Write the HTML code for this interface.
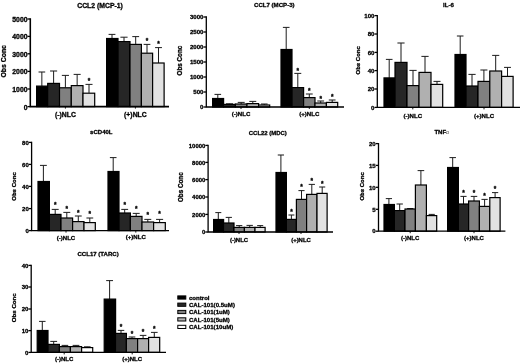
<!DOCTYPE html>
<html lang="en">
<head>
<meta charset="utf-8">
<title>Cytokine concentrations</title>
<style>
html,body{margin:0;padding:0;background:#fff;}
body{width:520px;height:363px;overflow:hidden;}
svg{display:block;}
svg text{font-family:"Liberation Sans", Arial, sans-serif;font-weight:bold;fill:#000;stroke:#000;stroke-width:0.3px;stroke-linejoin:round;}
</style>
</head>
<body>
<svg width="520" height="363" viewBox="0 0 520 363">
<defs><filter id="soft" x="0" y="0" width="520" height="363" filterUnits="userSpaceOnUse"><feGaussianBlur stdDeviation="0.27"/></filter></defs>
<rect width="520" height="363" fill="#fff"/>
<g filter="url(#soft)">
<g>
<text x="100" y="7.67" font-size="6.85" text-anchor="middle">CCL2 (MCP-1)</text>
<text transform="translate(5.87 61.3) rotate(-90)" font-size="6.85" text-anchor="middle">Obs Conc</text>
<path d="M41.85 86.1V72M38.52 72H45.18" stroke="#1c1c1c" stroke-width="1.0" fill="none"/>
<rect x="36.6" y="86.1" width="11.1" height="20.5" fill="#000000" stroke="#000" stroke-width="1.2"/>
<path d="M53.6 83.4V71M50.06 71H57.14" stroke="#1c1c1c" stroke-width="1.0" fill="none"/>
<rect x="47.7" y="83.4" width="11.8" height="23.2" fill="#282828" stroke="#000" stroke-width="1.2"/>
<path d="M65.4 87.8V75.4M61.86 75.4H68.94" stroke="#1c1c1c" stroke-width="1.0" fill="none"/>
<rect x="59.5" y="87.8" width="11.8" height="18.8" fill="#808080" stroke="#000" stroke-width="1.2"/>
<path d="M77.15 85.6V74.4M73.64 74.4H80.66" stroke="#1c1c1c" stroke-width="1.0" fill="none"/>
<rect x="71.3" y="85.6" width="11.7" height="21" fill="#b0b0b0" stroke="#000" stroke-width="1.2"/>
<path d="M89 93.2V84.4M85.49 84.4H92.51" stroke="#1c1c1c" stroke-width="1.0" fill="none"/>
<rect x="83" y="93.2" width="11.7" height="13.4" fill="#e2e2e2" stroke="#000" stroke-width="1.2"/>
<text x="89" y="82.77" font-size="6.5" text-anchor="middle" stroke-width="0.25">*</text>
<text x="65.4" y="117.07" font-size="6.85" text-anchor="middle">(-)NLC</text>
<path d="M65.4 106.6v2" stroke="#000" stroke-width="0.9"/>
<path d="M112 38.5V34.4M108.58 34.4H115.42" stroke="#1c1c1c" stroke-width="1.0" fill="none"/>
<rect x="106.6" y="38.5" width="11.4" height="68.1" fill="#000000" stroke="#000" stroke-width="1.2"/>
<path d="M124 41.6V37.2M120.4 37.2H127.6" stroke="#1c1c1c" stroke-width="1.0" fill="none"/>
<rect x="118" y="41.6" width="12" height="65" fill="#282828" stroke="#000" stroke-width="1.2"/>
<path d="M135.7 44.4V36.6M132.28 36.6H139.12" stroke="#1c1c1c" stroke-width="1.0" fill="none"/>
<rect x="130" y="44.4" width="11.4" height="62.2" fill="#808080" stroke="#000" stroke-width="1.2"/>
<path d="M147 53.2V44.4M143.64 44.4H150.36" stroke="#1c1c1c" stroke-width="1.0" fill="none"/>
<rect x="141.4" y="53.2" width="11.2" height="53.4" fill="#b0b0b0" stroke="#000" stroke-width="1.2"/>
<text x="147" y="42.77" font-size="6.5" text-anchor="middle" stroke-width="0.25">*</text>
<path d="M158.5 63V47.6M155.05 47.6H161.95" stroke="#1c1c1c" stroke-width="1.0" fill="none"/>
<rect x="152.6" y="63" width="11.5" height="43.6" fill="#e2e2e2" stroke="#000" stroke-width="1.2"/>
<text x="158.5" y="46.17" font-size="6.5" text-anchor="middle" stroke-width="0.25">*</text>
<text x="135.4" y="117.07" font-size="6.85" text-anchor="middle">(+)NLC</text>
<path d="M135.4 106.6v2" stroke="#000" stroke-width="0.9"/>
<path d="M30.3 18.23V106.6H169" stroke="#000" stroke-width="1.55" fill="none"/>
<path d="M27.5 19H30.3" stroke="#000" stroke-width="1.3"/>
<text x="27.5" y="22.07" font-size="6.85" text-anchor="end">5000</text>
<path d="M27.5 36.4H30.3" stroke="#000" stroke-width="1.3"/>
<text x="27.5" y="39.47" font-size="6.85" text-anchor="end">4000</text>
<path d="M27.5 53.8H30.3" stroke="#000" stroke-width="1.3"/>
<text x="27.5" y="56.87" font-size="6.85" text-anchor="end">3000</text>
<path d="M27.5 71.4H30.3" stroke="#000" stroke-width="1.3"/>
<text x="27.5" y="74.47" font-size="6.85" text-anchor="end">2000</text>
<path d="M27.5 89H30.3" stroke="#000" stroke-width="1.3"/>
<text x="27.5" y="92.07" font-size="6.85" text-anchor="end">1000</text>
<path d="M27.5 106.6H30.3" stroke="#000" stroke-width="1.3"/>
<text x="27.5" y="109.67" font-size="6.85" text-anchor="end">0</text>
</g>
<g>
<text x="274.3" y="7.3" font-size="6.1" text-anchor="middle">CCL7 (MCP-3)</text>
<text transform="translate(181.66 60.6) rotate(-90)" font-size="6.27" text-anchor="middle">Obs Conc</text>
<path d="M217.8 98.5V94.4M214.5 94.4H221.1" stroke="#1c1c1c" stroke-width="1.0" fill="none"/>
<rect x="212.6" y="98.5" width="11" height="8.5" fill="#000000" stroke="#000" stroke-width="1.2"/>
<path d="M229.5 104.4V103.8M225.96 103.8H233.04" stroke="#1c1c1c" stroke-width="1.0" fill="none"/>
<rect x="223.6" y="104.4" width="11.8" height="2.6" fill="#282828" stroke="#000" stroke-width="1.2"/>
<path d="M241.2 104V102.4M237.72 102.4H244.68" stroke="#1c1c1c" stroke-width="1.0" fill="none"/>
<rect x="235.4" y="104" width="11.6" height="3" fill="#808080" stroke="#000" stroke-width="1.2"/>
<path d="M252.8 103.6V101.4M249.32 101.4H256.28" stroke="#1c1c1c" stroke-width="1.0" fill="none"/>
<rect x="247" y="103.6" width="11.6" height="3.4" fill="#b0b0b0" stroke="#000" stroke-width="1.2"/>
<path d="M264.3 105V104M260.97 104H267.63" stroke="#1c1c1c" stroke-width="1.0" fill="none"/>
<rect x="258.6" y="105" width="11.1" height="2" fill="#e2e2e2" stroke="#000" stroke-width="1.2"/>
<text x="241" y="116" font-size="6.1" text-anchor="middle">(-)NLC</text>
<path d="M241 107v2" stroke="#000" stroke-width="0.9"/>
<path d="M286.2 49.5V27.4M282.9 27.4H289.5" stroke="#1c1c1c" stroke-width="1.0" fill="none"/>
<rect x="281" y="49.5" width="11" height="57.5" fill="#000000" stroke="#000" stroke-width="1.2"/>
<path d="M297.8 87.6V73.4M294.32 73.4H301.28" stroke="#1c1c1c" stroke-width="1.0" fill="none"/>
<rect x="292" y="87.6" width="11.6" height="19.4" fill="#282828" stroke="#000" stroke-width="1.2"/>
<text x="297.8" y="72.77" font-size="6.5" text-anchor="middle" stroke-width="0.25">*</text>
<path d="M309.3 97.6V94M305.88 94H312.72" stroke="#1c1c1c" stroke-width="1.0" fill="none"/>
<rect x="303.6" y="97.6" width="11.4" height="9.4" fill="#808080" stroke="#000" stroke-width="1.2"/>
<text x="309.3" y="92.77" font-size="6.5" text-anchor="middle" stroke-width="0.25">*</text>
<path d="M320.7 103V101M317.28 101H324.12" stroke="#1c1c1c" stroke-width="1.0" fill="none"/>
<rect x="315" y="103" width="11.4" height="4" fill="#b0b0b0" stroke="#000" stroke-width="1.2"/>
<text x="320.7" y="100.77" font-size="6.5" text-anchor="middle" stroke-width="0.25">*</text>
<path d="M332.2 102.4V100M328.81 100H335.59" stroke="#1c1c1c" stroke-width="1.0" fill="none"/>
<rect x="326.4" y="102.4" width="11.3" height="4.6" fill="#e2e2e2" stroke="#000" stroke-width="1.2"/>
<text x="332.2" y="98.77" font-size="6.5" text-anchor="middle" stroke-width="0.25">*</text>
<text x="309.3" y="116" font-size="6.1" text-anchor="middle">(+)NLC</text>
<path d="M309.3 107v2" stroke="#000" stroke-width="0.9"/>
<path d="M206.3 16.35V107H344" stroke="#000" stroke-width="1.3" fill="none"/>
<path d="M203.5 17H206.3" stroke="#000" stroke-width="1.3"/>
<text x="203.5" y="19.25" font-size="6.1" text-anchor="end">3000</text>
<path d="M203.5 32H206.3" stroke="#000" stroke-width="1.3"/>
<text x="203.5" y="34.25" font-size="6.1" text-anchor="end">2500</text>
<path d="M203.5 47H206.3" stroke="#000" stroke-width="1.3"/>
<text x="203.5" y="49.25" font-size="6.1" text-anchor="end">2000</text>
<path d="M203.5 62H206.3" stroke="#000" stroke-width="1.3"/>
<text x="203.5" y="64.25" font-size="6.1" text-anchor="end">1500</text>
<path d="M203.5 77H206.3" stroke="#000" stroke-width="1.3"/>
<text x="203.5" y="79.25" font-size="6.1" text-anchor="end">1000</text>
<path d="M203.5 92H206.3" stroke="#000" stroke-width="1.3"/>
<text x="203.5" y="94.25" font-size="6.1" text-anchor="end">500</text>
<path d="M203.5 107H206.3" stroke="#000" stroke-width="1.3"/>
<text x="203.5" y="109.25" font-size="6.1" text-anchor="end">0</text>
</g>
<g>
<text x="448.4" y="7" font-size="6.1" text-anchor="middle">IL-6</text>
<text transform="translate(359.56 60.3) rotate(-90)" font-size="6.0" text-anchor="middle">Obs Conc</text>
<path d="M389.2 77.9V59.4M385.9 59.4H392.5" stroke="#1c1c1c" stroke-width="1.0" fill="none"/>
<rect x="384" y="77.9" width="11" height="29.5" fill="#000000" stroke="#000" stroke-width="1.2"/>
<path d="M401 62.4V43M397.4 43H404.6" stroke="#1c1c1c" stroke-width="1.0" fill="none"/>
<rect x="395" y="62.4" width="12" height="45" fill="#282828" stroke="#000" stroke-width="1.2"/>
<path d="M413 85.6V70.4M409.4 70.4H416.6" stroke="#1c1c1c" stroke-width="1.0" fill="none"/>
<rect x="407" y="85.6" width="12" height="21.8" fill="#808080" stroke="#000" stroke-width="1.2"/>
<path d="M425 72.4V56.4M421.4 56.4H428.6" stroke="#1c1c1c" stroke-width="1.0" fill="none"/>
<rect x="419" y="72.4" width="12" height="35" fill="#b0b0b0" stroke="#000" stroke-width="1.2"/>
<path d="M437 84.4V81.4M433.49 81.4H440.51" stroke="#1c1c1c" stroke-width="1.0" fill="none"/>
<rect x="431" y="84.4" width="11.7" height="23" fill="#e2e2e2" stroke="#000" stroke-width="1.2"/>
<text x="412.8" y="117.7" font-size="6.1" text-anchor="middle">(-)NLC</text>
<path d="M412.8 107.4v2" stroke="#000" stroke-width="0.9"/>
<path d="M460.2 54.5V36M456.9 36H463.5" stroke="#1c1c1c" stroke-width="1.0" fill="none"/>
<rect x="455" y="54.5" width="11" height="52.9" fill="#000000" stroke="#000" stroke-width="1.2"/>
<path d="M472 86V74.4M468.4 74.4H475.6" stroke="#1c1c1c" stroke-width="1.0" fill="none"/>
<rect x="466" y="86" width="12" height="21.4" fill="#282828" stroke="#000" stroke-width="1.2"/>
<path d="M483.9 81.4V70M480.36 70H487.44" stroke="#1c1c1c" stroke-width="1.0" fill="none"/>
<rect x="478" y="81.4" width="11.8" height="26" fill="#808080" stroke="#000" stroke-width="1.2"/>
<path d="M495.7 71V55.4M492.16 55.4H499.24" stroke="#1c1c1c" stroke-width="1.0" fill="none"/>
<rect x="489.8" y="71" width="11.8" height="36.4" fill="#b0b0b0" stroke="#000" stroke-width="1.2"/>
<path d="M507.5 76.4V67.4M504.05 67.4H510.95" stroke="#1c1c1c" stroke-width="1.0" fill="none"/>
<rect x="501.6" y="76.4" width="11.5" height="31" fill="#e2e2e2" stroke="#000" stroke-width="1.2"/>
<text x="484" y="117.7" font-size="6.1" text-anchor="middle">(+)NLC</text>
<path d="M484 107.4v2" stroke="#000" stroke-width="0.9"/>
<path d="M377.3 14.95V107.4H520" stroke="#000" stroke-width="1.3" fill="none"/>
<path d="M374.5 15.6H377.3" stroke="#000" stroke-width="1.3"/>
<text x="374.5" y="17.85" font-size="6.1" text-anchor="end">100</text>
<path d="M374.5 34H377.3" stroke="#000" stroke-width="1.3"/>
<text x="374.5" y="36.25" font-size="6.1" text-anchor="end">80</text>
<path d="M374.5 52.4H377.3" stroke="#000" stroke-width="1.3"/>
<text x="374.5" y="54.65" font-size="6.1" text-anchor="end">60</text>
<path d="M374.5 70.6H377.3" stroke="#000" stroke-width="1.3"/>
<text x="374.5" y="72.85" font-size="6.1" text-anchor="end">40</text>
<path d="M374.5 89H377.3" stroke="#000" stroke-width="1.3"/>
<text x="374.5" y="91.25" font-size="6.1" text-anchor="end">20</text>
<path d="M374.5 107.4H377.3" stroke="#000" stroke-width="1.3"/>
<text x="374.5" y="109.65" font-size="6.1" text-anchor="end">0</text>
</g>
<g>
<text x="101.3" y="133.78" font-size="6.05" text-anchor="middle">sCD40L</text>
<text transform="translate(16.18 186.5) rotate(-90)" font-size="6.05" text-anchor="middle">Obs Conc</text>
<path d="M43.4 181.5V165.4M39.98 165.4H46.82" stroke="#1c1c1c" stroke-width="1.0" fill="none"/>
<rect x="38" y="181.5" width="11.4" height="49.1" fill="#000000" stroke="#000" stroke-width="1.2"/>
<path d="M55.2 214.4V209.4M51.72 209.4H58.68" stroke="#1c1c1c" stroke-width="1.0" fill="none"/>
<rect x="49.4" y="214.4" width="11.6" height="16.2" fill="#282828" stroke="#000" stroke-width="1.2"/>
<text x="55.2" y="207.17" font-size="6.5" text-anchor="middle" stroke-width="0.25">*</text>
<path d="M66.8 218V212.4M63.32 212.4H70.28" stroke="#1c1c1c" stroke-width="1.0" fill="none"/>
<rect x="61" y="218" width="11.6" height="12.6" fill="#808080" stroke="#000" stroke-width="1.2"/>
<text x="66.8" y="210.77" font-size="6.5" text-anchor="middle" stroke-width="0.25">*</text>
<path d="M78.3 221.6V216M74.88 216H81.72" stroke="#1c1c1c" stroke-width="1.0" fill="none"/>
<rect x="72.6" y="221.6" width="11.4" height="9" fill="#b0b0b0" stroke="#000" stroke-width="1.2"/>
<text x="78.3" y="215.37" font-size="6.5" text-anchor="middle" stroke-width="0.25">*</text>
<path d="M89.8 222.6V218M86.41 218H93.19" stroke="#1c1c1c" stroke-width="1.0" fill="none"/>
<rect x="84" y="222.6" width="11.3" height="8" fill="#e2e2e2" stroke="#000" stroke-width="1.2"/>
<text x="89.8" y="216.37" font-size="6.5" text-anchor="middle" stroke-width="0.25">*</text>
<text x="66" y="239.68" font-size="6.05" text-anchor="middle">(-)NLC</text>
<path d="M66 230.6v2" stroke="#000" stroke-width="0.9"/>
<path d="M113.2 171.5V157.6M109.9 157.6H116.5" stroke="#1c1c1c" stroke-width="1.0" fill="none"/>
<rect x="108" y="171.5" width="11" height="59.1" fill="#000000" stroke="#000" stroke-width="1.2"/>
<path d="M124.7 213V209.4M121.28 209.4H128.12" stroke="#1c1c1c" stroke-width="1.0" fill="none"/>
<rect x="119" y="213" width="11.4" height="17.6" fill="#282828" stroke="#000" stroke-width="1.2"/>
<text x="124.7" y="207.17" font-size="6.5" text-anchor="middle" stroke-width="0.25">*</text>
<path d="M136.2 216.4V213.4M132.72 213.4H139.68" stroke="#1c1c1c" stroke-width="1.0" fill="none"/>
<rect x="130.4" y="216.4" width="11.6" height="14.2" fill="#808080" stroke="#000" stroke-width="1.2"/>
<text x="136.2" y="211.17" font-size="6.5" text-anchor="middle" stroke-width="0.25">*</text>
<path d="M147.8 222V219.4M144.32 219.4H151.28" stroke="#1c1c1c" stroke-width="1.0" fill="none"/>
<rect x="142" y="222" width="11.6" height="8.6" fill="#b0b0b0" stroke="#000" stroke-width="1.2"/>
<text x="147.8" y="216.77" font-size="6.5" text-anchor="middle" stroke-width="0.25">*</text>
<path d="M159.6 222.6V219.4M156.09 219.4H163.11" stroke="#1c1c1c" stroke-width="1.0" fill="none"/>
<rect x="153.6" y="222.6" width="11.7" height="8" fill="#e2e2e2" stroke="#000" stroke-width="1.2"/>
<text x="159.6" y="216.37" font-size="6.5" text-anchor="middle" stroke-width="0.25">*</text>
<text x="135.8" y="239.48" font-size="6.05" text-anchor="middle">(+)NLC</text>
<path d="M135.8 230.6v2" stroke="#000" stroke-width="0.9"/>
<path d="M31.6 141.75V230.6H169" stroke="#000" stroke-width="1.3" fill="none"/>
<path d="M28.8 142.4H31.6" stroke="#000" stroke-width="1.3"/>
<text x="28.8" y="144.63" font-size="6.05" text-anchor="end">80</text>
<path d="M28.8 164.4H31.6" stroke="#000" stroke-width="1.3"/>
<text x="28.8" y="166.63" font-size="6.05" text-anchor="end">60</text>
<path d="M28.8 186.4H31.6" stroke="#000" stroke-width="1.3"/>
<text x="28.8" y="188.63" font-size="6.05" text-anchor="end">40</text>
<path d="M28.8 208.6H31.6" stroke="#000" stroke-width="1.3"/>
<text x="28.8" y="210.83" font-size="6.05" text-anchor="end">20</text>
<path d="M28.8 230.6H31.6" stroke="#000" stroke-width="1.3"/>
<text x="28.8" y="232.83" font-size="6.05" text-anchor="end">0</text>
</g>
<g>
<text x="267.8" y="134.89" font-size="5.95" text-anchor="middle">CCL22 (MDC)</text>
<text transform="translate(183.07 187.2) rotate(-90)" font-size="6.3" text-anchor="middle">Obs Conc</text>
<path d="M218.3 219.5V212.6M215.3 212.6H221.3" stroke="#1c1c1c" stroke-width="1.0" fill="none"/>
<rect x="213.6" y="219.5" width="10" height="12.5" fill="#000000" stroke="#000" stroke-width="1.2"/>
<path d="M228.8 223V217.4M225.68 217.4H231.92" stroke="#1c1c1c" stroke-width="1.0" fill="none"/>
<rect x="223.6" y="223" width="10.4" height="9" fill="#282828" stroke="#000" stroke-width="1.2"/>
<path d="M239.2 227.4V225.6M236.08 225.6H242.32" stroke="#1c1c1c" stroke-width="1.0" fill="none"/>
<rect x="234" y="227.4" width="10.4" height="4.6" fill="#808080" stroke="#000" stroke-width="1.2"/>
<path d="M249.7 227.4V225.4M246.52 225.4H252.88" stroke="#1c1c1c" stroke-width="1.0" fill="none"/>
<rect x="244.4" y="227.4" width="10.6" height="4.6" fill="#b0b0b0" stroke="#000" stroke-width="1.2"/>
<path d="M260.2 227.4V225.6M257.17 225.6H263.23" stroke="#1c1c1c" stroke-width="1.0" fill="none"/>
<rect x="255" y="227.4" width="10.1" height="4.6" fill="#e2e2e2" stroke="#000" stroke-width="1.2"/>
<text x="239" y="241.94" font-size="5.95" text-anchor="middle">(-)NLC</text>
<path d="M239 232v2" stroke="#000" stroke-width="0.9"/>
<path d="M280.9 172.5V155M277.78 155H284.02" stroke="#1c1c1c" stroke-width="1.0" fill="none"/>
<rect x="276" y="172.5" width="10.4" height="59.5" fill="#000000" stroke="#000" stroke-width="1.2"/>
<path d="M291.4 219.4V215M288.4 215H294.4" stroke="#1c1c1c" stroke-width="1.0" fill="none"/>
<rect x="286.4" y="219.4" width="10" height="12.6" fill="#282828" stroke="#000" stroke-width="1.2"/>
<text x="291.4" y="213.77" font-size="6.5" text-anchor="middle" stroke-width="0.25">*</text>
<path d="M301.5 199.4V190.6M298.44 190.6H304.56" stroke="#1c1c1c" stroke-width="1.0" fill="none"/>
<rect x="296.4" y="199.4" width="10.2" height="32.6" fill="#808080" stroke="#000" stroke-width="1.2"/>
<text x="301.5" y="189.37" font-size="6.5" text-anchor="middle" stroke-width="0.25">*</text>
<path d="M311.8 194.4V184.4M308.68 184.4H314.92" stroke="#1c1c1c" stroke-width="1.0" fill="none"/>
<rect x="306.6" y="194.4" width="10.4" height="37.6" fill="#b0b0b0" stroke="#000" stroke-width="1.2"/>
<text x="311.8" y="182.77" font-size="6.5" text-anchor="middle" stroke-width="0.25">*</text>
<path d="M322.2 193.4V187M319.17 187H325.23" stroke="#1c1c1c" stroke-width="1.0" fill="none"/>
<rect x="317" y="193.4" width="10.1" height="38.6" fill="#e2e2e2" stroke="#000" stroke-width="1.2"/>
<text x="322.2" y="185.77" font-size="6.5" text-anchor="middle" stroke-width="0.25">*</text>
<text x="301" y="241.94" font-size="5.95" text-anchor="middle">(+)NLC</text>
<path d="M301 232v2" stroke="#000" stroke-width="0.9"/>
<path d="M208.1 144.75V232H333" stroke="#000" stroke-width="1.3" fill="none"/>
<path d="M205.3 145.4H208.1" stroke="#000" stroke-width="1.3"/>
<text x="205.3" y="147.59" font-size="5.95" text-anchor="end">10000</text>
<path d="M205.3 162.4H208.1" stroke="#000" stroke-width="1.3"/>
<text x="205.3" y="164.59" font-size="5.95" text-anchor="end">8000</text>
<path d="M205.3 179.6H208.1" stroke="#000" stroke-width="1.3"/>
<text x="205.3" y="181.79" font-size="5.95" text-anchor="end">6000</text>
<path d="M205.3 197H208.1" stroke="#000" stroke-width="1.3"/>
<text x="205.3" y="199.19" font-size="5.95" text-anchor="end">4000</text>
<path d="M205.3 214.4H208.1" stroke="#000" stroke-width="1.3"/>
<text x="205.3" y="216.59" font-size="5.95" text-anchor="end">2000</text>
<path d="M205.3 232H208.1" stroke="#000" stroke-width="1.3"/>
<text x="205.3" y="234.19" font-size="5.95" text-anchor="end">0</text>
</g>
<g>
<text x="441.7" y="134.26" font-size="6.0" text-anchor="middle">TNF<tspan font-weight="normal" font-size="5" stroke="none" fill="#333">α</tspan></text>
<text transform="translate(364.16 186.4) rotate(-90)" font-size="6.0" text-anchor="middle">Obs Conc</text>
<path d="M388.9 204.5V198.6M385.78 198.6H392.02" stroke="#1c1c1c" stroke-width="1.0" fill="none"/>
<rect x="384" y="204.5" width="10.4" height="26.7" fill="#000000" stroke="#000" stroke-width="1.2"/>
<path d="M399.7 210.6V204M396.52 204H402.88" stroke="#1c1c1c" stroke-width="1.0" fill="none"/>
<rect x="394.4" y="210.6" width="10.6" height="20.6" fill="#282828" stroke="#000" stroke-width="1.2"/>
<path d="M410.2 209V208.5M407.08 208.5H413.32" stroke="#1c1c1c" stroke-width="1.0" fill="none"/>
<rect x="405" y="209" width="10.4" height="22.2" fill="#808080" stroke="#000" stroke-width="1.2"/>
<path d="M420.9 185V170.6M417.6 170.6H424.2" stroke="#1c1c1c" stroke-width="1.0" fill="none"/>
<rect x="415.4" y="185" width="11" height="46.2" fill="#b0b0b0" stroke="#000" stroke-width="1.2"/>
<path d="M431.7 215.6V214.4M428.61 214.4H434.79" stroke="#1c1c1c" stroke-width="1.0" fill="none"/>
<rect x="426.4" y="215.6" width="10.3" height="15.6" fill="#e2e2e2" stroke="#000" stroke-width="1.2"/>
<text x="410.2" y="239.96" font-size="6.0" text-anchor="middle">(-)NLC</text>
<path d="M410.2 231.2v2" stroke="#000" stroke-width="0.9"/>
<path d="M452.7 167.5V157.6M449.46 157.6H455.94" stroke="#1c1c1c" stroke-width="1.0" fill="none"/>
<rect x="447.6" y="167.5" width="10.8" height="63.7" fill="#000000" stroke="#000" stroke-width="1.2"/>
<path d="M463.5 204V196.4M460.44 196.4H466.56" stroke="#1c1c1c" stroke-width="1.0" fill="none"/>
<rect x="458.4" y="204" width="10.2" height="27.2" fill="#282828" stroke="#000" stroke-width="1.2"/>
<text x="463.5" y="194.77" font-size="6.5" text-anchor="middle" stroke-width="0.25">*</text>
<path d="M474 201V196.4M470.76 196.4H477.24" stroke="#1c1c1c" stroke-width="1.0" fill="none"/>
<rect x="468.6" y="201" width="10.8" height="30.2" fill="#808080" stroke="#000" stroke-width="1.2"/>
<text x="474" y="194.77" font-size="6.5" text-anchor="middle" stroke-width="0.25">*</text>
<path d="M484.6 206.4V199.4M481.48 199.4H487.72" stroke="#1c1c1c" stroke-width="1.0" fill="none"/>
<rect x="479.4" y="206.4" width="10.4" height="24.8" fill="#b0b0b0" stroke="#000" stroke-width="1.2"/>
<text x="484.6" y="198.37" font-size="6.5" text-anchor="middle" stroke-width="0.25">*</text>
<path d="M495.1 197.6V192.6M492.01 192.6H498.19" stroke="#1c1c1c" stroke-width="1.0" fill="none"/>
<rect x="489.8" y="197.6" width="10.3" height="33.6" fill="#e2e2e2" stroke="#000" stroke-width="1.2"/>
<text x="495.1" y="191.17" font-size="6.5" text-anchor="middle" stroke-width="0.25">*</text>
<text x="474" y="239.96" font-size="6.0" text-anchor="middle">(+)NLC</text>
<path d="M474 231.2v2" stroke="#000" stroke-width="0.9"/>
<path d="M378.5 142.95V231.2H505.4" stroke="#000" stroke-width="1.3" fill="none"/>
<path d="M375.7 143.6H378.5" stroke="#000" stroke-width="1.3"/>
<text x="375.7" y="145.81" font-size="6.0" text-anchor="end">20</text>
<path d="M375.7 165.4H378.5" stroke="#000" stroke-width="1.3"/>
<text x="375.7" y="167.61" font-size="6.0" text-anchor="end">15</text>
<path d="M375.7 187.3H378.5" stroke="#000" stroke-width="1.3"/>
<text x="375.7" y="189.51" font-size="6.0" text-anchor="end">10</text>
<path d="M375.7 209.3H378.5" stroke="#000" stroke-width="1.3"/>
<text x="375.7" y="211.51" font-size="6.0" text-anchor="end">5</text>
<path d="M375.7 231.2H378.5" stroke="#000" stroke-width="1.3"/>
<text x="375.7" y="233.41" font-size="6.0" text-anchor="end">0</text>
</g>
<g>
<text x="98.1" y="255.93" font-size="6.05" text-anchor="middle">CCL17 (TARC)</text>
<text transform="translate(15.61 307.7) rotate(-90)" font-size="6.13" text-anchor="middle">Obs Conc</text>
<path d="M42.3 330.5V321.4M39.06 321.4H45.54" stroke="#1c1c1c" stroke-width="1.0" fill="none"/>
<rect x="37.2" y="330.5" width="10.8" height="21.9" fill="#000000" stroke="#000" stroke-width="1.2"/>
<path d="M53.7 344.4V341.4M50.28 341.4H57.12" stroke="#1c1c1c" stroke-width="1.0" fill="none"/>
<rect x="48" y="344.4" width="11.4" height="8" fill="#282828" stroke="#000" stroke-width="1.2"/>
<path d="M64.9 346.6V345.4M61.6 345.4H68.2" stroke="#1c1c1c" stroke-width="1.0" fill="none"/>
<rect x="59.4" y="346.6" width="11" height="5.8" fill="#808080" stroke="#000" stroke-width="1.2"/>
<path d="M76 346.6V345.4M72.64 345.4H79.36" stroke="#1c1c1c" stroke-width="1.0" fill="none"/>
<rect x="70.4" y="346.6" width="11.2" height="5.8" fill="#b0b0b0" stroke="#000" stroke-width="1.2"/>
<path d="M87.3 347.6V346.8M83.97 346.8H90.63" stroke="#1c1c1c" stroke-width="1.0" fill="none"/>
<rect x="81.6" y="347.6" width="11.1" height="4.8" fill="#ffffff" stroke="#000" stroke-width="1.2"/>
<text x="64.2" y="361.48" font-size="6.05" text-anchor="middle">(-)NLC</text>
<path d="M64.2 352.4v2" stroke="#000" stroke-width="0.9"/>
<path d="M109.6 299.1V280.6M106.18 280.6H113.02" stroke="#1c1c1c" stroke-width="1.0" fill="none"/>
<rect x="104.2" y="299.1" width="11.4" height="53.3" fill="#000000" stroke="#000" stroke-width="1.2"/>
<path d="M121 333.4V330.4M117.76 330.4H124.24" stroke="#1c1c1c" stroke-width="1.0" fill="none"/>
<rect x="115.6" y="333.4" width="10.8" height="19" fill="#282828" stroke="#000" stroke-width="1.2"/>
<text x="121" y="328.77" font-size="6.5" text-anchor="middle" stroke-width="0.25">*</text>
<path d="M132 338.6V337M128.64 337H135.36" stroke="#1c1c1c" stroke-width="1.0" fill="none"/>
<rect x="126.4" y="338.6" width="11.2" height="13.8" fill="#808080" stroke="#000" stroke-width="1.2"/>
<text x="132" y="335.77" font-size="6.5" text-anchor="middle" stroke-width="0.25">*</text>
<path d="M143.1 338.6V335.4M139.8 335.4H146.4" stroke="#1c1c1c" stroke-width="1.0" fill="none"/>
<rect x="137.6" y="338.6" width="11" height="13.8" fill="#b0b0b0" stroke="#000" stroke-width="1.2"/>
<text x="143.1" y="333.77" font-size="6.5" text-anchor="middle" stroke-width="0.25">*</text>
<path d="M154.3 337.4V332.4M150.97 332.4H157.63" stroke="#1c1c1c" stroke-width="1.0" fill="none"/>
<rect x="148.6" y="337.4" width="11.1" height="15" fill="#e2e2e2" stroke="#000" stroke-width="1.2"/>
<text x="154.3" y="331.17" font-size="6.5" text-anchor="middle" stroke-width="0.25">*</text>
<text x="132.2" y="361.28" font-size="6.05" text-anchor="middle">(+)NLC</text>
<path d="M132.2 352.4v2" stroke="#000" stroke-width="0.9"/>
<path d="M31.2 264.75V352.4H166" stroke="#000" stroke-width="1.3" fill="none"/>
<path d="M28.4 265.4H31.2" stroke="#000" stroke-width="1.3"/>
<text x="28.4" y="267.63" font-size="6.05" text-anchor="end">40</text>
<path d="M28.4 287H31.2" stroke="#000" stroke-width="1.3"/>
<text x="28.4" y="289.23" font-size="6.05" text-anchor="end">30</text>
<path d="M28.4 309H31.2" stroke="#000" stroke-width="1.3"/>
<text x="28.4" y="311.23" font-size="6.05" text-anchor="end">20</text>
<path d="M28.4 330.6H31.2" stroke="#000" stroke-width="1.3"/>
<text x="28.4" y="332.83" font-size="6.05" text-anchor="end">10</text>
<path d="M28.4 352.4H31.2" stroke="#000" stroke-width="1.3"/>
<text x="28.4" y="354.63" font-size="6.05" text-anchor="end">0</text>
</g>
<g>
<rect x="177.8" y="295.9" width="8" height="3.2" fill="#000000" stroke="#000" stroke-width="1"/>
<text x="188.9" y="299.7" font-size="6.1" text-anchor="start">control</text>
<rect x="177.8" y="303.1" width="8" height="3.2" fill="#282828" stroke="#000" stroke-width="1"/>
<text x="188.9" y="306.9" font-size="6.1" text-anchor="start">CAL-101(0.5uM)</text>
<rect x="177.8" y="310.4" width="8" height="3.2" fill="#808080" stroke="#000" stroke-width="1"/>
<text x="188.9" y="314.2" font-size="6.1" text-anchor="start">CAL-101(1uM)</text>
<rect x="177.8" y="317.8" width="8" height="3.2" fill="#b5b5b5" stroke="#000" stroke-width="1"/>
<text x="188.9" y="321.6" font-size="6.1" text-anchor="start">CAL-101(5uM)</text>
<rect x="177.8" y="325.3" width="8" height="3.2" fill="#ffffff" stroke="#000" stroke-width="1"/>
<text x="188.9" y="329.1" font-size="6.1" text-anchor="start">CAL-101(10uM)</text>
</g>
</g>
</svg>
</body>
</html>
